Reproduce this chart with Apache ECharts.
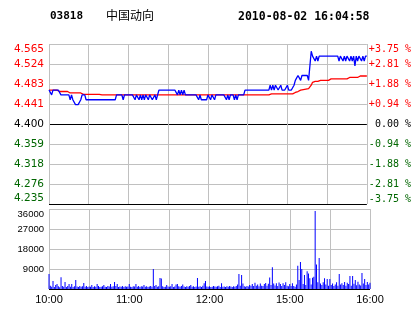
<!DOCTYPE html>
<html><head><meta charset="utf-8">
<script src="https://cdn.jsdelivr.net/npm/echarts@6/dist/echarts.min.js"></script>
<style>html,body{margin:0;padding:0;background:#fff}#c{width:414px;height:314px}</style>
</head><body><div id="c"></div>
<script>
// ---- data ----
var stockCode = '03818';
var stockName = '中国动向';
var stamp = '2010-08-02 16:04:58';
var prevClose = 4.400;
var priceMin = 4.235, priceMax = 4.565;
var priceLabels = ['4.235','4.276','4.318','4.359','4.400','4.441','4.483','4.524','4.565'];
var pctLabels = ['-3.75 %','-2.81 %','-1.88 %','-0.94 %',' 0.00 %','+0.94 %','+1.88 %','+2.81 %','+3.75 %'];
var volLabels = ['', '9000', '18000', '27000', '36000'];
var timeTickMinutes = [0, 60, 120, 180, 240];
var timeTickLabels = ['10:00', '11:00', '12:00', '15:00', '16:00'];
// minute index 0..240 (10:00-12:30, 14:30-16:00)
var price = [
4.47,4.47,4.46,4.47,4.47,4.47,4.47,4.47,4.47,4.46,
4.46,4.46,4.46,4.46,4.46,4.46,4.45,4.46,4.45,4.45,
4.44,4.44,4.44,4.44,4.45,4.46,4.46,4.46,4.45,4.45,
4.45,4.45,4.45,4.45,4.45,4.45,4.45,4.45,4.45,4.45,
4.45,4.45,4.45,4.45,4.45,4.45,4.45,4.45,4.45,4.45,
4.45,4.46,4.46,4.46,4.46,4.46,4.45,4.46,4.46,4.46,
4.46,4.46,4.46,4.46,4.46,4.45,4.46,4.46,4.45,4.46,
4.45,4.46,4.45,4.46,4.46,4.45,4.46,4.46,4.45,4.45,
4.46,4.45,4.45,4.47,4.47,4.47,4.47,4.47,4.47,4.47,
4.47,4.47,4.47,4.47,4.47,4.47,4.47,4.46,4.47,4.46,
4.47,4.46,4.47,4.46,4.46,4.46,4.46,4.46,4.46,4.46,
4.46,4.46,4.46,4.45,4.46,4.45,4.45,4.45,4.45,4.45,
4.46,4.46,4.45,4.46,4.46,4.45,4.46,4.46,4.46,4.46,
4.46,4.46,4.46,4.46,4.45,4.46,4.45,4.46,4.46,4.46,
4.45,4.46,4.45,4.46,4.46,4.46,4.46,4.46,4.47,4.47,
4.47,4.47,4.47,4.47,4.47,4.47,4.47,4.47,4.47,4.47,
4.47,4.47,4.47,4.47,4.47,4.47,4.47,4.48,4.47,4.48,
4.47,4.48,4.48,4.47,4.47,4.48,4.47,4.47,4.47,4.47,
4.48,4.47,4.47,4.47,4.47,4.48,4.49,4.49,4.50,4.50,
4.49,4.50,4.50,4.50,4.50,4.50,4.49,4.49,4.55,4.54,
4.54,4.53,4.54,4.53,4.54,4.54,4.54,4.54,4.54,4.54,
4.54,4.54,4.54,4.54,4.54,4.54,4.54,4.54,4.54,4.53,
4.54,4.54,4.53,4.54,4.53,4.54,4.54,4.53,4.54,4.53,
4.54,4.52,4.54,4.53,4.54,4.54,4.53,4.54,4.53,4.54,
4.54];
var avgPrice = [
4.470,4.470,4.470,4.470,4.470,4.470,4.470,4.470,4.467,4.467,
4.467,4.467,4.467,4.467,4.467,4.464,4.464,4.464,4.464,4.464,
4.464,4.464,4.464,4.464,4.464,4.464,4.461,4.461,4.461,4.461,
4.461,4.461,4.461,4.461,4.461,4.461,4.461,4.461,4.461,4.460,
4.460,4.460,4.460,4.460,4.460,4.460,4.460,4.460,4.460,4.460,
4.460,4.460,4.460,4.460,4.460,4.460,4.460,4.460,4.460,4.460,
4.460,4.460,4.460,4.460,4.460,4.460,4.460,4.460,4.460,4.460,
4.460,4.460,4.460,4.460,4.460,4.460,4.460,4.460,4.460,4.460,
4.460,4.460,4.460,4.460,4.460,4.460,4.460,4.460,4.460,4.460,
4.460,4.460,4.460,4.460,4.460,4.460,4.460,4.460,4.460,4.460,
4.460,4.460,4.460,4.460,4.460,4.460,4.460,4.460,4.460,4.460,
4.460,4.460,4.460,4.460,4.460,4.460,4.460,4.460,4.460,4.460,
4.460,4.460,4.460,4.460,4.460,4.460,4.460,4.460,4.460,4.460,
4.460,4.460,4.460,4.460,4.460,4.460,4.460,4.460,4.460,4.460,
4.460,4.460,4.460,4.460,4.460,4.460,4.460,4.460,4.460,4.460,
4.460,4.460,4.460,4.460,4.460,4.460,4.460,4.460,4.460,4.460,
4.460,4.460,4.460,4.460,4.460,4.460,4.460,4.462,4.462,4.462,
4.462,4.462,4.462,4.462,4.462,4.462,4.462,4.462,4.462,4.462,
4.462,4.462,4.462,4.462,4.462,4.462,4.465,4.466,4.467,4.468,
4.470,4.470,4.471,4.471,4.472,4.472,4.473,4.474,4.480,4.486,
4.488,4.488,4.488,4.488,4.488,4.490,4.490,4.490,4.490,4.490,
4.490,4.490,4.493,4.493,4.493,4.493,4.493,4.493,4.493,4.493,
4.493,4.493,4.493,4.493,4.493,4.493,4.496,4.496,4.496,4.496,
4.496,4.496,4.496,4.496,4.499,4.499,4.499,4.499,4.499,4.499,
4.499];
var volume = [
6700,1500,1000,3600,900,1800,2300,1200,800,5300,
1400,1000,3200,900,1300,2300,1000,2300,900,1200,
4000,1100,900,1400,1000,1200,2700,1000,1300,900,
1100,1000,1800,900,1200,1000,2200,1400,900,1000,
1200,1800,1000,900,1300,1100,2300,1000,1200,3100,
1400,2300,900,1100,1000,1300,900,1200,1000,1100,
2300,1000,900,1200,1100,2200,1000,1300,900,1200,
1100,1800,1000,1200,900,1100,1300,1000,9000,1400,
1800,1000,1200,5000,4700,1200,900,1000,1800,1100,
1000,1200,2300,900,1100,2000,2300,1200,1000,1300,
2000,1100,900,1200,1000,1400,1800,1000,1200,900,
1100,5000,1000,1200,900,1500,2600,3600,1100,1000,
1200,900,1000,1300,1100,1000,1200,1500,900,2600,
1000,1100,900,1200,1000,1300,1100,900,1200,1000,
1400,2000,6700,1500,6300,2500,1200,1000,1300,1100,
1800,1500,2200,1300,2800,1500,2000,1200,2500,1500,
1300,2200,2700,1500,2400,5200,1800,9800,2500,1600,
2600,1400,2900,2200,1300,2600,1800,3000,1500,1200,
2200,1400,2600,1300,1000,2000,10500,4000,12200,9000,
2300,6300,1800,8000,7000,4800,2000,5100,5500,35100,
11000,3000,14000,2500,1800,3000,4800,2000,4500,1500,
4500,1800,2500,1300,2000,3000,1500,6700,2000,2600,
1800,3200,1500,2800,2300,5800,1500,5800,2400,4000,
1700,3300,2000,1600,7200,2500,4500,1800,3200,2000,
2800];

// ---- chart ----
var GRID = '#c0c0c0';
var RED = '#ff0000', GREEN = '#006600';
function pair(arr){ return arr.map(function(v,i){ return [i, v]; }); }
function lvlColor(i){ return i > 4 ? RED : (i < 4 ? GREEN : '#000'); }
var chart = echarts.init(document.getElementById('c'), null, {renderer:'canvas'});
var xBase = {type:'value', min:0, max:240, interval:30,
  axisLine:{show:false}, axisTick:{show:false},
  splitLine:{show:true, lineStyle:{color:GRID, width:1}}};
chart.setOption({
  animation:false,
  backgroundColor:'#fff',
  graphic:[
    {type:'text', left:50, top:11, style:{text:stockCode, font:'bold 11px "DejaVu Sans Mono"', fill:'#000'}},
    {type:'text', left:106, top:9, style:{text:stockName, font:'12px "Noto Sans CJK SC"', fill:'#000'}},
    {type:'text', left:238, top:11, style:{text:stamp, font:'bold 11.5px "DejaVu Sans Mono"', fill:'#000'}}
  ],
  grid:[
    {left:49, top:44, width:321, height:160, show:false},
    {left:49, top:209, width:321, height:80, show:false}
  ],
  xAxis:[
    Object.assign({gridIndex:0, axisLabel:{show:false}}, xBase),
    Object.assign({gridIndex:1, axisLabel:{show:true, margin:5, color:'#000', fontSize:11, fontFamily:'Liberation Sans',
      formatter:function(v){ var k = timeTickMinutes.indexOf(v); return k >= 0 ? timeTickLabels[k] : ''; }}}, xBase)
  ],
  yAxis:[
    {gridIndex:0, type:'value', position:'left', min:-4, max:4, interval:1,
     axisLine:{show:false}, axisTick:{show:false},
     splitLine:{show:true, lineStyle:{width:1, color:['#000',GRID,GRID,GRID,'#000',GRID,GRID,GRID,GRID]}},
     axisLabel:{margin:5, fontSize:10.5, fontFamily:'DejaVu Sans',
       verticalAlignMaxLabel:'top', verticalAlignMinLabel:'bottom',
       formatter:function(v){ return priceLabels[Math.round(v)+4]; },
       color:function(v){ return lvlColor(Math.round(v)+4); }}},
    {gridIndex:0, type:'value', position:'right', min:-4, max:4, interval:1,
     axisLine:{show:false}, axisTick:{show:false}, splitLine:{show:false},
     axisLabel:{margin:2, fontSize:10, fontFamily:'DejaVu Sans Mono',
       verticalAlignMaxLabel:'top', verticalAlignMinLabel:'bottom',
       formatter:function(v){ return pctLabels[Math.round(v)+4]; },
       color:function(v){ return lvlColor(Math.round(v)+4); }}},
    {gridIndex:0, type:'value', min:priceMin, max:priceMax, show:false, splitLine:{show:false}},
    {gridIndex:1, type:'value', min:0, max:36000, interval:9000,
     axisLine:{show:false}, axisTick:{show:false},
     splitLine:{show:true, lineStyle:{width:1, color:['#000',GRID,GRID,GRID,GRID]}},
     axisLabel:{margin:5, fontSize:9.5, fontFamily:'Liberation Sans', color:'#000',
       verticalAlignMaxLabel:'top',
       formatter:function(v){ return volLabels[Math.round(v/9000)]; }}}
  ],
  series:[
    {type:'line', xAxisIndex:0, yAxisIndex:2, data:pair(avgPrice), symbol:'none', silent:true,
     lineStyle:{color:RED, width:1.3}},
    {type:'line', xAxisIndex:0, yAxisIndex:2, data:pair(price), symbol:'none', silent:true,
     lineStyle:{color:'#0000ff', width:1.3}},
    {type:'bar', xAxisIndex:1, yAxisIndex:3, data:pair(volume), barWidth:1, silent:true,
     itemStyle:{color:'#0000ff'}}
  ]
});
</script></body></html>
